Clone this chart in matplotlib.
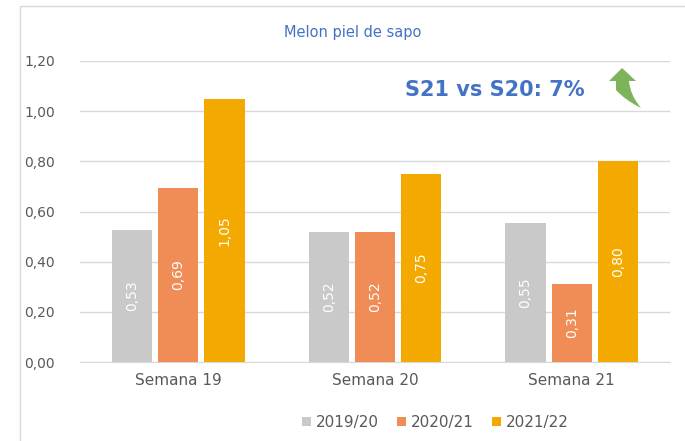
import matplotlib
matplotlib.use('Agg')
import matplotlib.pyplot as plt
import numpy as np
from matplotlib.patches import PathPatch, Rectangle
from matplotlib.path import Path

weeks = ['Semana 19', 'Semana 20', 'Semana 21']
seasons = ['2019/20', '2020/21', '2021/22']
v_1920 = [0.525, 0.52, 0.553]
v_2021 = [0.695, 0.518, 0.31]
v_2122 = [1.048, 0.75, 0.80]
labels_1920 = ['0,53', '0,52', '0,55']
labels_2021 = ['0,69', '0,52', '0,31']
labels_2122 = ['1,05', '0,75', '0,80']
yticks = [0, 0.2, 0.4, 0.6, 0.8, 1.0, 1.2]

colors = ['#C9C9C9', '#F08D56', '#F4A900']
text_gray = '#595959'
blue = '#4472C4'

W, H = 685, 441
fig = plt.figure(figsize=(W / 100, H / 100), dpi=100)
ax = fig.add_axes([80 / W, (H - 362) / H, 590 / W, 301 / H])

# chart frame
fig.patches.append(Rectangle((20 / W, -0.1), 1.1, (H - 6) / H + 0.1,
                             transform=fig.transFigure, fill=False,
                             edgecolor='#D9D9D9', linewidth=1))

x = np.arange(len(weeks))
width = 0.205
offset = 0.235
series = [v_1920, v_2021, v_2122]
labels = [labels_1920, labels_2021, labels_2122]
for i, (vals, labs) in enumerate(zip(series, labels)):
    pos = x + (i - 1) * offset
    ax.bar(pos, vals, width, color=colors[i], label=seasons[i], zorder=3)
    for xp, v, lab in zip(pos, vals, labs):
        ax.text(xp, v / 2, lab, rotation=90, ha='center', va='center',
                color='white', fontsize=10, zorder=4)

ax.set_xlim(-0.5, 2.5)
ax.set_ylim(0, 1.2)
ax.set_yticks(yticks)
ax.set_yticklabels([f'{t:.2f}'.replace('.', ',') for t in yticks])
ax.set_xticks(x)
ax.set_xticklabels(weeks)
ax.tick_params(axis='y', length=0, pad=18, labelsize=10, labelcolor=text_gray)
ax.tick_params(axis='x', length=0, pad=8, labelsize=11, labelcolor=text_gray)
ax.grid(axis='y', color='#D9D9D9', linewidth=1, zorder=0)
for s in ['top', 'right', 'left']:
    ax.spines[s].set_visible(False)
ax.spines['bottom'].set_color('#D9D9D9')

fig.text(353 / W, 1 - 32 / H, 'Melon piel de sapo', ha='center', va='center',
         color=blue, fontsize=10.5)
fig.text(495 / W, 1 - 90 / H, 'S21 vs S20: 7%', ha='center', va='center',
         color=blue, fontsize=15, fontweight='bold')

# curved green arrow (pixel coords, y from top)
pts = [(622, 68), (636, 81), (629, 81), (630, 95), (641, 108),
       (625, 100), (616, 90), (616, 81), (609, 81), (622, 68)]
codes = [Path.MOVETO, Path.LINETO, Path.LINETO, Path.CURVE3, Path.CURVE3,
         Path.CURVE3, Path.CURVE3, Path.LINETO, Path.LINETO, Path.CLOSEPOLY]
arrow_path = Path([(px / W, 1 - py / H) for px, py in pts], codes)
fig.patches.append(PathPatch(arrow_path, transform=fig.transFigure,
                             facecolor='#7CB35B', edgecolor='none'))

ax.legend(loc='upper center', bbox_to_anchor=(355 / 590, -0.13), ncol=3,
          frameon=False, fontsize=11, labelcolor=text_gray,
          handlelength=0.6, handleheight=0.6, handletextpad=0.3,
          columnspacing=1.2)

fig.savefig('out.png', dpi=100)
